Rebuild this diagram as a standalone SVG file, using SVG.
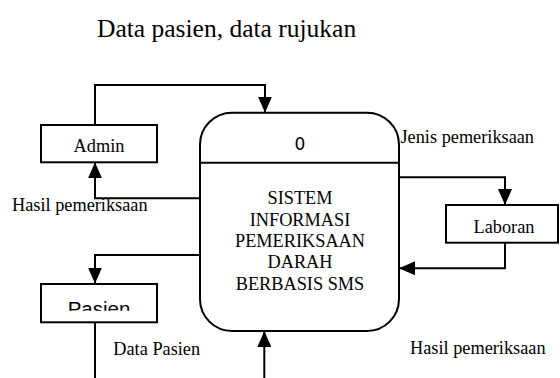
<svg xmlns="http://www.w3.org/2000/svg" width="560" height="378" viewBox="0 0 560 378">
<style>
.t{font-family:"Liberation Serif","Times New Roman",serif;font-size:18.3px;fill:#000}
.s{font-family:"Liberation Sans",Arial,sans-serif;fill:#000}
.box{fill:#fff;stroke:#000;stroke-width:2}
.c{fill:none;stroke:#000;stroke-width:2}
</style>
<defs>
<marker id="arr" markerUnits="userSpaceOnUse" markerWidth="16" markerHeight="14" viewBox="0 0 16 14" refX="16" refY="7" orient="auto">
<path d="M0,0 L16,7 L0,14 z" fill="#000"/>
</marker>
<clipPath id="pclip"><rect x="41" y="284" width="116" height="26.7"/></clipPath>
</defs>
<rect width="560" height="378" fill="#fff"/>
<text class="t" x="97" y="37" style="font-size:25.5px">Data pasien, data rujukan</text>
<g id="connectors">
<path class="c" d="M95,125 V85 H265 V112.7" marker-end="url(#arr)"/>
<path class="c" d="M200,198.3 H95 V162.3" marker-end="url(#arr)"/>
<path class="c" d="M399,177.3 H505 V205" marker-end="url(#arr)"/>
<path class="c" d="M505,242.7 V268.3 H399" marker-end="url(#arr)"/>
<path class="c" d="M200,255 H95 V283.5" marker-end="url(#arr)"/>
<path class="c" d="M95,322 V378"/>
<path class="c" d="M264.3,378 V331" marker-end="url(#arr)"/>
<text class="t" x="12" y="210.5">Hasil pemeriksaan</text>
<text class="t" x="400.5" y="142.7">Jenis pemeriksaan</text>
<text class="t" x="113.3" y="355">Data Pasien</text>
<text class="t" x="410" y="354.3">Hasil pemeriksaan</text>
</g>
<g id="admin">
<rect class="box" x="41" y="125" width="116" height="37.3"/>
<text class="t" x="99" y="152.3" text-anchor="middle">Admin</text>
</g>
<g id="process">
<rect class="box" x="200" y="112.7" width="199" height="218.3" rx="32" ry="32"/>
<line class="c" x1="200" y1="162.7" x2="399" y2="162.7"/>
<text x="300" y="150" text-anchor="middle" style="font-family:'DejaVu Sans',Verdana,sans-serif;font-size:17px">0</text>
<text class="t" text-anchor="middle"><tspan x="300" y="204.3">SISTEM</tspan><tspan x="300" y="226">INFORMASI</tspan><tspan x="300" y="247.3">PEMERIKSAAN</tspan><tspan x="300" y="268.3">DARAH</tspan><tspan x="300" y="290">BERBASIS SMS</tspan></text>
</g>
<g id="laboran">
<rect class="box" x="446" y="205" width="112" height="37.7"/>
<text class="t" x="504" y="232.7" text-anchor="middle">Laboran</text>
</g>
<g id="pasien">
<rect class="box" x="41" y="284" width="116" height="38.3"/>
<text class="s" x="99" y="316" text-anchor="middle" clip-path="url(#pclip)" style="font-size:20.5px">Pasien</text>
</g>
</svg>
